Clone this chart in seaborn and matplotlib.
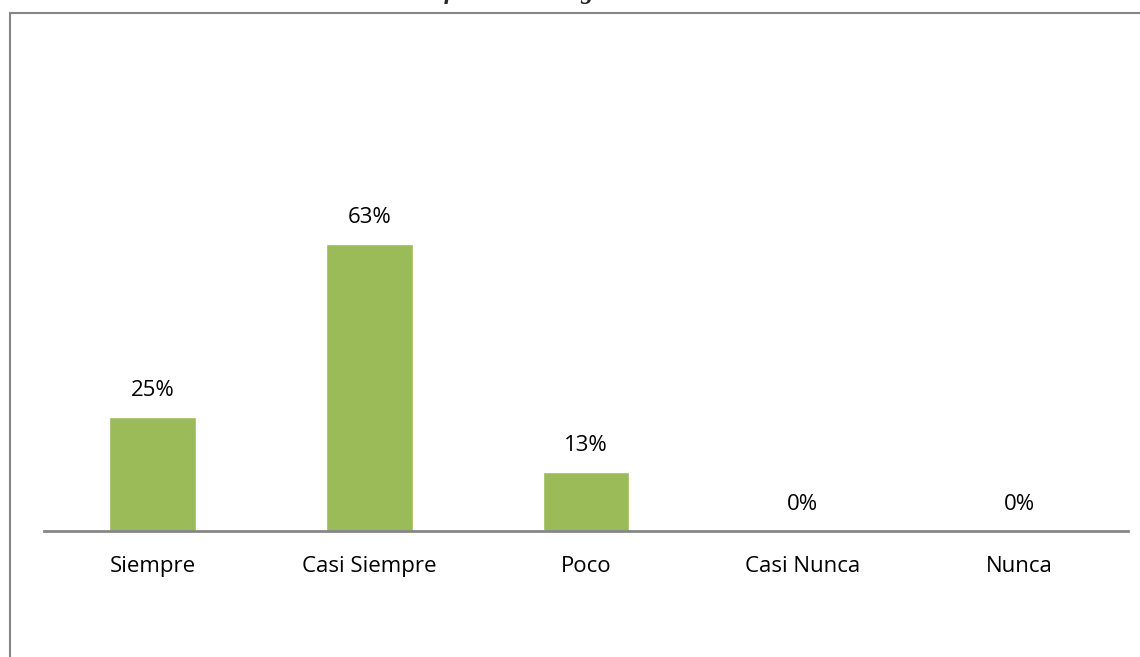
import matplotlib
matplotlib.use("Agg")
import matplotlib.pyplot as plt
from matplotlib.lines import Line2D
import seaborn as sns
import pandas as pd

categories = ["Siempre", "Casi Siempre", "Poco", "Casi Nunca", "Nunca"]
percentages = [25, 63, 13, 0, 0]
title_text = "Gráfico de la Pregunta Nº 1"

sns.set_theme(style="white")
plt.rcParams["font.family"] = ["Open Sans", "DejaVu Sans"]

df = pd.DataFrame({"categoria": categories, "porcentaje": percentages})

fig = plt.figure(figsize=(11.4, 6.57), dpi=100)
W, H = 1140, 657
ax = fig.add_axes([44 / W, 1 - 531 / H, (1128 - 44) / W, (531 - 75) / H])

sns.barplot(data=df, x="categoria", y="porcentaje", color="#9BBB59",
            width=0.4, saturation=1, ax=ax)

ax.set_xlim(-0.5, len(categories) - 0.5)
ax.set_ylim(0, 100)
ax.set_xlabel("")
ax.set_ylabel("")
ax.set_yticks([])
ax.tick_params(axis="x", length=0, pad=18, labelsize=16, labelcolor="black")
for side in ["top", "right", "left"]:
    ax.spines[side].set_visible(False)
ax.spines["bottom"].set_color("#868686")
ax.spines["bottom"].set_linewidth(2)

for i, v in enumerate(percentages):
    ax.annotate(f"{v}%", xy=(i, v), xytext=(0, 19), textcoords="offset points",
                ha="center", va="center", fontsize=16, color="black")

# chart frame (left and top edges)
frame_color = "#868686"
fig.add_artist(Line2D([9.5 / W, 9.5 / W], [0, 1 - 13 / H], transform=fig.transFigure,
                      color=frame_color, linewidth=1.5))
fig.add_artist(Line2D([9.5 / W, 1], [1 - 13 / H, 1 - 13 / H], transform=fig.transFigure,
                      color=frame_color, linewidth=1.5))

fig.text(548 / W, 1 + 1.5 / H, title_text, ha="center", va="baseline",
         fontsize=18, fontweight="bold", fontstyle="italic",
         family=["Liberation Serif", "DejaVu Serif"])

fig.savefig("out.png", dpi=100)
